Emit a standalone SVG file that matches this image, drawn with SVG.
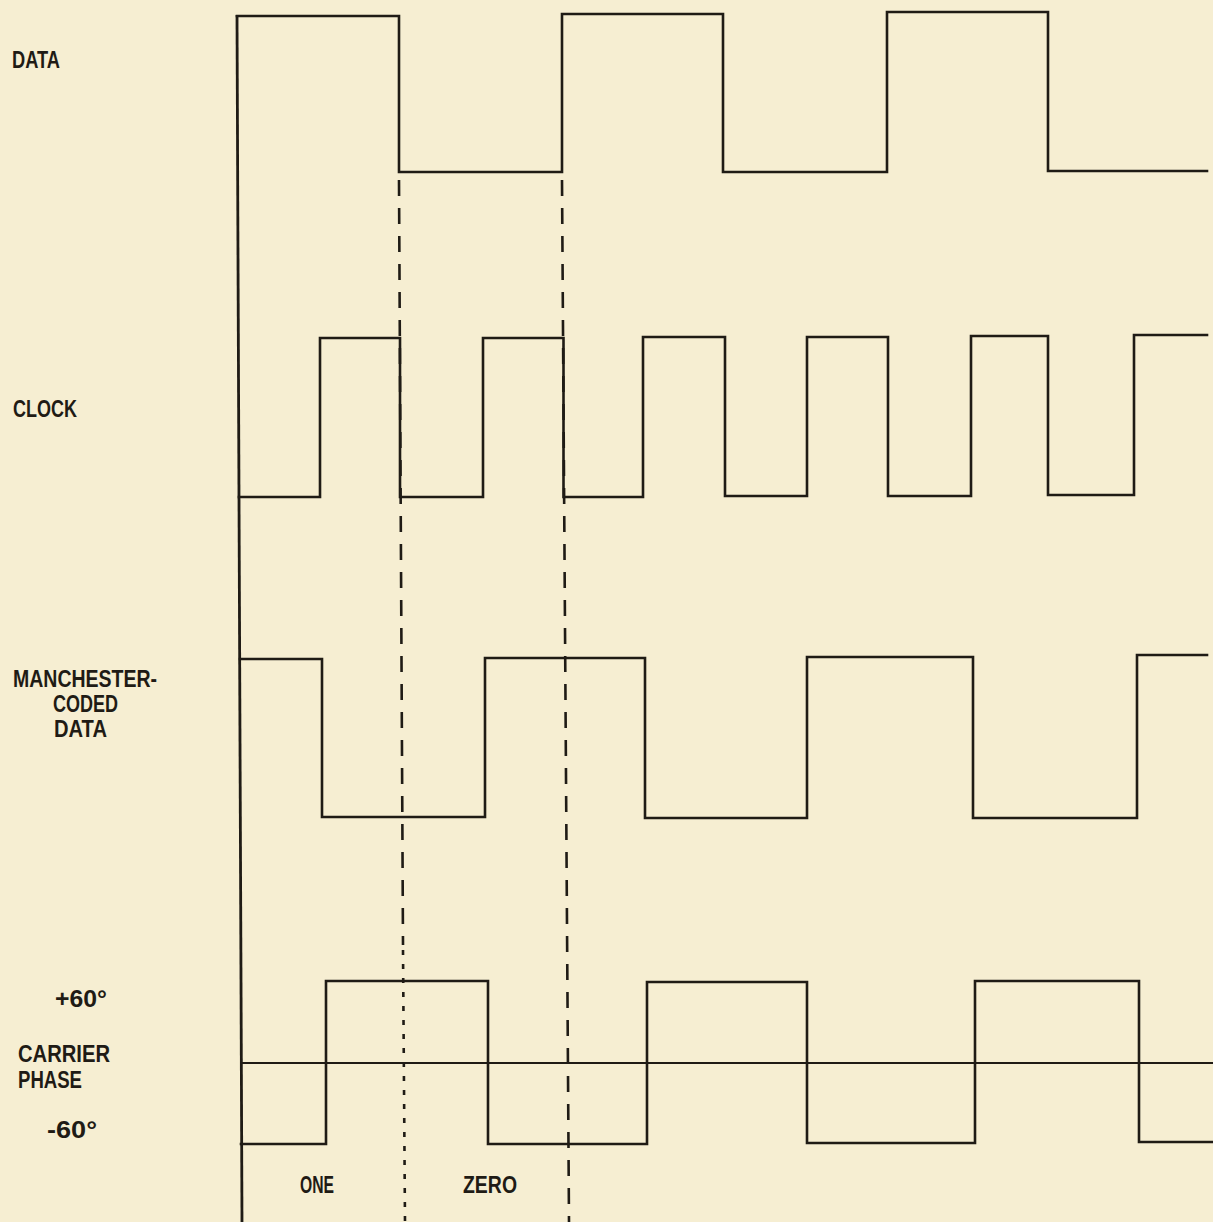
<svg xmlns="http://www.w3.org/2000/svg" width="1213" height="1222" viewBox="0 0 1213 1222">
<style>
.bg{fill:#f6eed2}
.wave{fill:none;stroke:#1f1b15;stroke-width:2.6;stroke-linejoin:miter;stroke-linecap:square}
.axis{fill:none;stroke:#1f1b15;stroke-width:2.8}
.ref{fill:none;stroke:#1f1b15;stroke-width:1.8}
.dash{fill:none;stroke:#1f1b15;stroke-width:2.6;stroke-dasharray:16 12}
.dot{fill:none;stroke:#1f1b15;stroke-width:2.6;stroke-dasharray:5 9}
.lbl{font-family:"Liberation Sans","DejaVu Sans",sans-serif;font-size:24px;font-weight:bold;fill:#1f1b15}
</style>
<rect class="bg" x="0" y="0" width="1213" height="1222"/>
<g id="connectors">
  <path id="time-axis" class="axis" d="M237,15 L242,1222"/>
  <path id="boundary-1" class="dash" d="M399,180 L403,945"/>
  <path id="boundary-1-lower" class="dot" d="M403,950 L405,1222"/>
  <path id="boundary-2" class="dash" d="M562,180 L569,1222"/>
  <path id="carrier-zero" class="ref" d="M241,1063 H1213"/>
</g>
<g id="data">
  <path class="wave" d="M237,16 H399 V172 H562 V14 H723 V172 H887 V12 H1048 V171 H1207"/>
  <text class="lbl" x="12" y="68" textLength="48" lengthAdjust="spacingAndGlyphs">DATA</text>
</g>
<g id="clock">
  <path class="wave" d="M239,497 H320 V338 H400 V497 H483 V338 H563.5 V497 H643 V337 H725 V496 H807 V337 H888 V496 H971 V336 H1048 V495 H1134 V335 H1207"/>
  <text class="lbl" x="13" y="417" textLength="64" lengthAdjust="spacingAndGlyphs">CLOCK</text>
</g>
<g id="manchester">
  <path class="wave" d="M240,659 H322 V817 H485 V658 H645 V818 H807 V657 H973 V818 H1137 V655 H1207"/>
  <text class="lbl" x="13" y="687" textLength="144" lengthAdjust="spacingAndGlyphs">MANCHESTER-</text>
  <text class="lbl" x="53" y="712" textLength="65" lengthAdjust="spacingAndGlyphs">CODED</text>
  <text class="lbl" x="54" y="737" textLength="53" lengthAdjust="spacingAndGlyphs">DATA</text>
</g>
<g id="carrier">
  <path class="wave" d="M241,1144 H326 V981 H488 V1144 H647 V982 H807 V1143 H975 V981 H1139 V1142 H1213"/>
  <text class="lbl" x="55" y="1007" textLength="52" lengthAdjust="spacingAndGlyphs">+60°</text>
  <text class="lbl" x="18" y="1062" textLength="92" lengthAdjust="spacingAndGlyphs">CARRIER</text>
  <text class="lbl" x="18" y="1088" textLength="64" lengthAdjust="spacingAndGlyphs">PHASE</text>
  <text class="lbl" x="47" y="1138" textLength="50" lengthAdjust="spacingAndGlyphs">-60°</text>
</g>
<g id="bits">
  <text class="lbl" x="300" y="1193" textLength="34" lengthAdjust="spacingAndGlyphs">ONE</text>
  <text class="lbl" x="463" y="1193" textLength="54" lengthAdjust="spacingAndGlyphs">ZERO</text>
</g>
</svg>
